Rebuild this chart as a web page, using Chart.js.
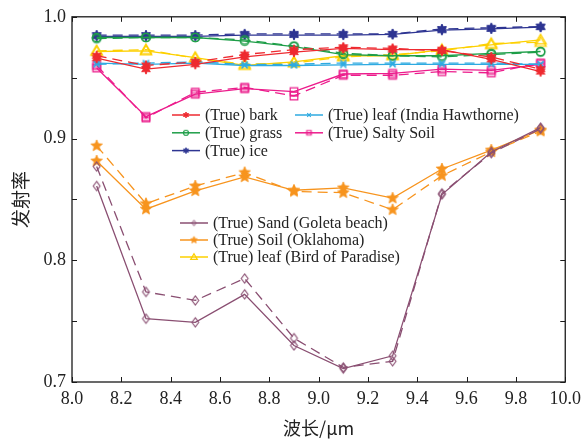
<!DOCTYPE html>
<html><head><meta charset="utf-8">
<script src="https://cdn.jsdelivr.net/npm/chart.js@4/dist/chart.umd.min.js"></script>
<style>html,body{margin:0;padding:0;background:#fff}#wrap{width:587px;height:439px;position:relative}</style>
</head><body><div id="wrap"><canvas id="c" width="587" height="439"></canvas></div>
<script>
// ---- data ----
const wavelengths = [8.1, 8.3, 8.5, 8.7, 8.9, 9.1, 9.3, 9.5, 9.7, 9.9];
const xTickValues = [8.0, 8.2, 8.4, 8.6, 8.8, 9.0, 9.2, 9.4, 9.6, 9.8, 10.0];
const yTickValues = [0.7, 0.8, 0.9, 1.0];

const barkTrue  = [0.966, 0.957, 0.961, 0.967, 0.971, 0.974, 0.973, 0.973, 0.965, 0.955];
const barkEst   = [0.968, 0.960, 0.963, 0.969, 0.973, 0.975, 0.974, 0.972, 0.967, 0.957];
const leafIHTrue = [0.962, 0.961, 0.962, 0.960, 0.960, 0.9605, 0.961, 0.961, 0.961, 0.961];
const leafIHEst  = [0.961, 0.962, 0.963, 0.961, 0.961, 0.962, 0.962, 0.962, 0.962, 0.961];
const grassTrue = [0.983, 0.983, 0.983, 0.980, 0.9755, 0.969, 0.968, 0.968, 0.970, 0.9715];
const grassEst  = [0.982, 0.983, 0.983, 0.981, 0.976, 0.970, 0.968, 0.967, 0.969, 0.971];
const saltyTrue = [0.958, 0.918, 0.9365, 0.941, 0.9385, 0.953, 0.9535, 0.957, 0.956, 0.961];
const saltyEst  = [0.960, 0.917, 0.938, 0.942, 0.935, 0.952, 0.952, 0.955, 0.954, 0.962];
const iceTrue   = [0.984, 0.984, 0.984, 0.985, 0.985, 0.985, 0.9855, 0.989, 0.990, 0.9915];
const iceEst    = [0.985, 0.985, 0.985, 0.986, 0.986, 0.986, 0.986, 0.990, 0.991, 0.992];
const sandTrue  = [0.861, 0.752, 0.749, 0.772, 0.730, 0.711, 0.7215, 0.854, 0.889, 0.909];
const sandEst   = [0.877, 0.774, 0.767, 0.785, 0.736, 0.712, 0.717, 0.855, 0.888, 0.908];
const soilTrue  = [0.8815, 0.842, 0.857, 0.8685, 0.8575, 0.8595, 0.851, 0.875, 0.8905, 0.907];
const soilEst   = [0.894, 0.8465, 0.861, 0.872, 0.8565, 0.8555, 0.8415, 0.8695, 0.889, 0.906];
const birdTrue  = [0.9715, 0.972, 0.9665, 0.960, 0.963, 0.968, 0.968, 0.973, 0.977, 0.981];
const birdEst   = [0.972, 0.973, 0.966, 0.961, 0.962, 0.967, 0.969, 0.972, 0.978, 0.979];

const seriesNames = ['(True) bark', '(True) leaf (India Hawthorne)', '(True) grass', '(True) Salty Soil',
  '(True) ice', '(True) Sand (Goleta beach)', '(True) Soil (Oklahoma)', '(True) leaf (Bird of Paradise)'];
const xTitle = '波长/μm';
const yTitle = '发射率';

// ---- styles ----
const FONT = '"Liberation Serif", "Times New Roman", serif';
const CJK = '"Noto Sans CJK SC", "Liberation Serif", serif';

function makeMarker(type, color, r, lw) {
  const s = Math.ceil(r * 2 + lw * 2 + 2);
  const c = document.createElement('canvas');
  c.width = s; c.height = s;
  const g = c.getContext('2d');
  const cx = s / 2, cy = s / 2;
  g.strokeStyle = color; g.fillStyle = color; g.lineWidth = lw; g.lineJoin = 'miter';
  g.beginPath();
  function star(n, inner) {
    for (let i = 0; i < 2 * n; i++) {
      const rr = i % 2 === 0 ? r : r * inner;
      const a = -Math.PI / 2 + i * Math.PI / n;
      const px = cx + rr * Math.cos(a), py = cy + rr * Math.sin(a);
      if (i === 0) g.moveTo(px, py); else g.lineTo(px, py);
    }
    g.closePath(); g.fill(); g.stroke();
  }
  switch (type) {
    case 'circle': g.arc(cx, cy, r, 0, 2 * Math.PI); g.stroke(); break;
    case 'square': g.rect(cx - r, cy - r, 2 * r, 2 * r); g.moveTo(cx - r, cy); g.lineTo(cx + r, cy); g.stroke(); break;
    case 'diamond': g.moveTo(cx, cy - r * 1.15); g.lineTo(cx + r * 0.85, cy); g.lineTo(cx, cy + r * 1.15); g.lineTo(cx - r * 0.85, cy); g.closePath(); g.stroke(); break;
    case 'triangle': g.moveTo(cx, cy - r); g.lineTo(cx + r, cy + r * 0.7); g.lineTo(cx - r, cy + r * 0.7); g.closePath(); g.stroke(); break;
    case 'star5': star(5, 0.45); break;
    case 'star6': star(6, 0.5); break;
    case 'x': g.moveTo(cx - r, cy - r); g.lineTo(cx + r, cy + r); g.moveTo(cx + r, cy - r); g.lineTo(cx - r, cy + r); g.stroke(); break;
  }
  return c;
}

const styleDefs = [
  {color: '#ee2a30', marker: 'star6', r: 5, lw: 1},
  {color: '#2eaae1', marker: 'x', r: 3, lw: 1.3},
  {color: '#1e9e48', marker: 'circle', r: 4.2, lw: 1.3},
  {color: '#ec1c8c', marker: 'square', r: 3.8, lw: 1.2},
  {color: '#2e3592', marker: 'star6', r: 5, lw: 1},
  {color: '#8a4f72', marker: 'diamond', r: 4, lw: 1.1},
  {color: '#f7941e', marker: 'star5', r: 6, lw: 0.8},
  {color: '#fdd000', marker: 'triangle', r: 5.5, lw: 1.4}
];
const trueSeries = [barkTrue, leafIHTrue, grassTrue, saltyTrue, iceTrue, sandTrue, soilTrue, birdTrue];
const estSeries  = [barkEst, leafIHEst, grassEst, saltyEst, iceEst, sandEst, soilEst, birdEst];

const markers = styleDefs.map(s => makeMarker(s.marker, s.color, s.r, s.lw));
const legendMarkers = styleDefs.map(s => makeMarker(s.marker, s.color, s.r * 0.6, Math.max(0.9, s.lw * 0.9)));

const toPts = arr => arr.map((v, i) => ({x: wavelengths[i], y: v}));
const datasets = [];
styleDefs.forEach((s, i) => {
  datasets.push({label: seriesNames[i], data: toPts(trueSeries[i]), borderColor: s.color, borderWidth: 1.3,
    pointStyle: markers[i], pointRadius: 4, fill: false, tension: 0});
  datasets.push({label: seriesNames[i] + ' est', data: toPts(estSeries[i]), borderColor: s.color, borderWidth: 1.3,
    borderDash: [10, 6], pointStyle: markers[i], pointRadius: 4, fill: false, tension: 0});
});

const legendGroups = [
  {x: 172, y: 115, items: [0, 2, 4], dy: 17.8},
  {x: 295, y: 115, items: [1, 3], dy: 17.8},
  {x: 180, y: 223, items: [5, 6, 7], dy: 17}
];

const framePlugin = {
  id: 'frame',
  afterDraw(chart) {
    const ctx = chart.ctx, a = chart.chartArea;
    const xs = chart.scales.x, ys = chart.scales.y;
    ctx.save();
    ctx.strokeStyle = '#1a1a1a';
    ctx.lineWidth = 1.3;
    ctx.strokeRect(a.left, a.top, a.right - a.left, a.bottom - a.top);
    ctx.lineWidth = 1;
    ctx.beginPath();
    xs.ticks.forEach(t => {
      const px = Math.round(xs.getPixelForValue(t.value)) + 0.5;
      ctx.moveTo(px, a.bottom); ctx.lineTo(px, a.bottom - 5);
      ctx.moveTo(px, a.top); ctx.lineTo(px, a.top + 5);
    });
    ys.ticks.forEach(t => {
      const py = Math.round(ys.getPixelForValue(t.value)) + 0.5;
      ctx.moveTo(a.left, py); ctx.lineTo(a.left + 5, py);
      ctx.moveTo(a.right, py); ctx.lineTo(a.right - 5, py);
    });
    ctx.stroke();
    ctx.font = '16px ' + FONT;
    ctx.textBaseline = 'middle';
    ctx.textAlign = 'left';
    legendGroups.forEach(gp => {
      gp.items.forEach((si, k) => {
        const y = gp.y + k * gp.dy;
        const s = styleDefs[si];
        ctx.strokeStyle = s.color; ctx.lineWidth = 1.5;
        ctx.beginPath(); ctx.moveTo(gp.x, y); ctx.lineTo(gp.x + 28, y); ctx.stroke();
        const m = legendMarkers[si];
        ctx.drawImage(m, gp.x + 14 - m.width / 2, y - m.height / 2);
        ctx.fillStyle = '#222';
        ctx.fillText(seriesNames[si], gp.x + 33, y + 1);
      });
    });
    ctx.restore();
  }
};

new Chart(document.getElementById('c'), {
  type: 'line',
  data: {datasets},
  options: {
    responsive: false, animation: false, devicePixelRatio: 1,
    layout: {padding: {left: 0, right: 20, top: 15, bottom: 0}},
    plugins: {legend: {display: false}, tooltip: {enabled: false}},
    scales: {
      x: {
        type: 'linear', min: 8, max: 10,
        afterBuildTicks: sc => { sc.ticks = xTickValues.map(v => ({value: v})); },
        afterFit: sc => { sc.height = 57; },
        grid: {display: false, drawTicks: false}, border: {display: false},
        ticks: {padding: 6, color: '#222', font: {family: FONT, size: 18}, maxRotation: 0, autoSkip: false,
          callback: v => v.toFixed(1)},
        title: {display: true, text: xTitle, color: '#222', font: {family: CJK, size: 18}, padding: {top: 0, bottom: 0}}
      },
      y: {
        type: 'linear', min: 0.7, max: 1.0,
        afterBuildTicks: sc => {
          const t = [];
          for (let k = 0; k <= 6; k++) t.push({value: Math.round((0.7 + k * 0.05) * 100) / 100});
          sc.ticks = t;
        },
        afterFit: sc => { sc.width = 72; },
        grid: {display: false, drawTicks: false}, border: {display: false},
        ticks: {padding: 6, color: '#222', font: {family: FONT, size: 18}, autoSkip: false,
          callback: v => (yTickValues.some(q => Math.abs(q - v) < 1e-6) ? v.toFixed(1) : '')},
        title: {display: true, text: yTitle, color: '#222', font: {family: CJK, size: 19}, padding: {top: 9, bottom: 0}}
      }
    }
  },
  plugins: [framePlugin]
});
</script></body></html>
